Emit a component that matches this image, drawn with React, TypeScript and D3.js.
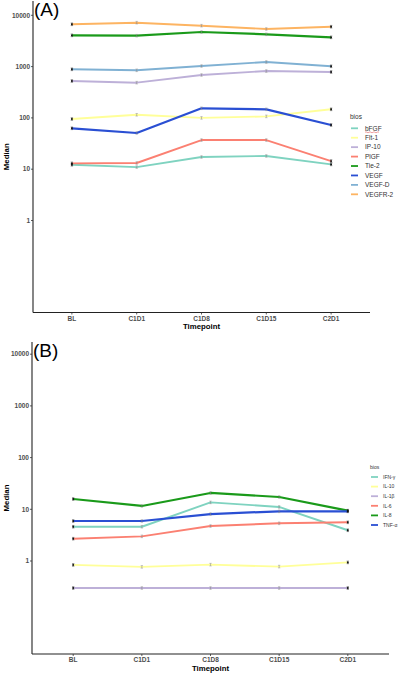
import React from "react";
import * as d3 from "d3";

const timepoints = ["BL", "C1D1", "C1D8", "C1D15", "C2D1"];
const yTickValues = [1, 10, 100, 1000, 10000];
const yTickLabels = ["1", "10", "100", "1000", "10000"];

// Panel A series
const namesA = ["bFGF", "Flt-1", "IP-10", "PlGF", "Tie-2", "VEGF", "VEGF-D", "VEGFR-2"];
const bFGF = [12.2, 11.0, 17.3, 18.1, 12.4];
const flt1 = [95, 115, 100, 107, 147];
const ip10 = [524, 486, 686, 820, 785];
const plgf = [13.0, 13.2, 37, 37, 14.4];
const tie2 = [4070, 4000, 4730, 4260, 3720];
const vegf = [62.7, 50.8, 154, 147, 72.7];
const vegfD = [886, 847, 1027, 1231, 1014];
const vegfr2 = [6680, 7180, 6270, 5410, 5990];
const valuesA = [bFGF, flt1, ip10, plgf, tie2, vegf, vegfD, vegfr2];
const colorsA = ["#7fd3c0", "#ffff99", "#bdb0d8", "#fb8072", "#1a9a1a", "#2a4fd3", "#80b1d3", "#fdb462"];

// Panel B series
const namesB = ["IFN-γ", "IL-10", "IL-1β", "IL-6", "IL-8", "TNF-α"];
const ifng = [4.6, 4.6, 13.6, 11.1, 3.93];
const il10 = [0.84, 0.77, 0.85, 0.78, 0.94];
const il1b = [0.3, 0.3, 0.3, 0.3, 0.3];
const il6 = [2.7, 3.0, 4.75, 5.36, 5.6];
const il8 = [15.8, 11.6, 20.7, 17.3, 9.4];
const tnfa = [5.94, 5.94, 8.1, 9.15, 9.15];
const valuesB = [ifng, il10, il1b, il6, il8, tnfa];
const colorsB = ["#7fd3c0", "#ffff99", "#bdb0d8", "#fb8072", "#1a9a1a", "#2a4fd3"];

const FONT = "'Liberation Sans', Arial, sans-serif";

type PanelProps = {
  label: string;
  names: string[];
  values: number[][];
  colors: string[];
  left: number;
  right: number;
  top: number;
  bottom: number;
  y1: number; // pixel of value 1
  decade: number; // pixels per decade
  legendX: number;
  legendTitleY: number;
  legendY0: number;
  legendStep: number;
  legendFont: number;
  legendKeyW: number;
  legendTextDx: number;
  squiggle?: boolean;
};

function Panel(p: PanelProps) {
  const x = d3.scalePoint<string>().domain(timepoints).range([p.left, p.right]).padding(0.6);
  const lo = Math.pow(10, (p.y1 - p.bottom) / p.decade);
  const hi = Math.pow(10, (p.y1 - p.top) / p.decade);
  const y = d3.scaleLog().domain([lo, hi]).range([p.bottom, p.top]);
  const line = d3
    .line<number>()
    .x((_, i) => x(timepoints[i]) as number)
    .y((d) => y(d));
  const cx = (p.left + p.right) / 2;
  const cy = (p.top + p.bottom) / 2;
  return (
    <g>
      {/* series lines */}
      {p.values.map((vals, si) => (
        <path
          key={"l" + si}
          d={line(vals) as string}
          fill="none"
          stroke={p.colors[si]}
          strokeWidth={si === 4 || si === 5 ? 2.2 : 1.9}
          strokeLinejoin="round"
        />
      ))}
      {/* error bar marks / points */}
      {p.values.map((vals, si) =>
        vals.map((v, i) => {
          const px = x(timepoints[i]) as number;
          const py = y(v);
          const end = i === 0 || i === vals.length - 1;
          const c = end ? "#222" : "#888";
          return (
            <g key={"m" + si + "-" + i}>
              <line x1={px} x2={px} y1={py - 1.3} y2={py + 1.3} stroke={c} strokeWidth={0.5} />
              <line x1={px - 1.2} x2={px + 1.2} y1={py - 1.3} y2={py - 1.3} stroke={c} strokeWidth={0.45} />
              <line x1={px - 1.2} x2={px + 1.2} y1={py + 1.3} y2={py + 1.3} stroke={c} strokeWidth={0.45} />
              {end && <circle cx={px} cy={py} r={0.95} fill="#111" />}
            </g>
          );
        })
      )}
      {/* axes */}
      <line x1={p.left} x2={p.left} y1={p.top} y2={p.bottom} stroke="#222" strokeWidth={1.1} />
      <line x1={p.left} x2={p.right} y1={p.bottom} y2={p.bottom} stroke="#222" strokeWidth={1.1} />
      {yTickValues.map((v, i) => (
        <g key={"yt" + i}>
          <line x1={p.left - 2} x2={p.left} y1={y(v)} y2={y(v)} stroke="#333" strokeWidth={0.8} />
          <text
            x={p.left - 3}
            y={y(v)}
            dy="0.35em"
            textAnchor="end"
            fontSize={6.5}
            fontWeight="bold"
            fill="#4d4d4d"
            fontFamily={FONT}
          >
            {yTickLabels[i]}
          </text>
        </g>
      ))}
      {timepoints.map((t) => (
        <g key={"xt" + t}>
          <line x1={x(t) as number} x2={x(t) as number} y1={p.bottom} y2={p.bottom + 2} stroke="#333" strokeWidth={0.8} />
          <text
            x={x(t) as number}
            y={p.bottom + 8}
            textAnchor="middle"
            fontSize={6.5}
            fontWeight="bold"
            fill="#4d4d4d"
            fontFamily={FONT}
          >
            {t}
          </text>
        </g>
      ))}
      <text x={cx} y={p.bottom + 16.5} textAnchor="middle" fontSize={7.8} fontWeight="bold" fill="#000" fontFamily={FONT}>
        Timepoint
      </text>
      <text
        transform={`translate(9,${cy}) rotate(-90)`}
        textAnchor="middle"
        fontSize={7.8}
        fontWeight="bold"
        fill="#000"
        fontFamily={FONT}
      >
        Median
      </text>
      <text x={p.left + 1} y={p.top + 15} fontSize={19} fill="#000" fontFamily={FONT}>
        {p.label}
      </text>
      {/* legend */}
      <text x={p.legendX} y={p.legendTitleY} dy="0.35em" fontSize={p.legendFont} fill="#333" fontFamily={FONT}>
        bios
      </text>
      {p.names.map((n, i) => {
        const ly = p.legendY0 + i * p.legendStep;
        return (
          <g key={"lg" + i}>
            <line
              x1={p.legendX + 1}
              x2={p.legendX + 1 + p.legendKeyW}
              y1={ly}
              y2={ly}
              stroke={p.colors[i]}
              strokeWidth={1.8}
            />
            <text
              x={p.legendX + p.legendTextDx}
              y={ly}
              dy="0.35em"
              fontSize={p.legendFont}
              fill="#333"
              fontFamily={FONT}
            >
              {n}
            </text>
            {p.squiggle && i === 0 && (
              <path
                d={`M${p.legendX + p.legendTextDx},${ly + 4} q1,-1 2,0 t2,0 t2,0 t2,0 t2,0 t2,0 t2,0`}
                fill="none"
                stroke="#e06060"
                strokeWidth={0.6}
              />
            )}
          </g>
        );
      })}
    </g>
  );
}

export default function App() {
  return (
    <svg
      width={400}
      height={674}
      style={{ position: "absolute", left: 0, top: 0, background: "#fff" }}
    >
      <rect width={400} height={674} fill="#fff" />
      <Panel
        label="(A)"
        names={namesA}
        values={valuesA}
        colors={colorsA}
        left={33}
        right={370}
        top={1}
        bottom={312.5}
        y1={220.5}
        decade={51.3}
        legendX={350}
        legendTitleY={117}
        legendY0={128.3}
        legendStep={9.43}
        legendFont={6.5}
        legendKeyW={7}
        legendTextDx={15}
        squiggle
      />
      <Panel
        label="(B)"
        names={namesB}
        values={valuesB}
        colors={colorsB}
        left={32}
        right={389}
        top={342}
        bottom={654}
        y1={561}
        decade={51.7}
        legendX={370}
        legendTitleY={467}
        legendY0={477}
        legendStep={9.6}
        legendFont={5}
        legendKeyW={7}
        legendTextDx={13}
      />
    </svg>
  );
}
